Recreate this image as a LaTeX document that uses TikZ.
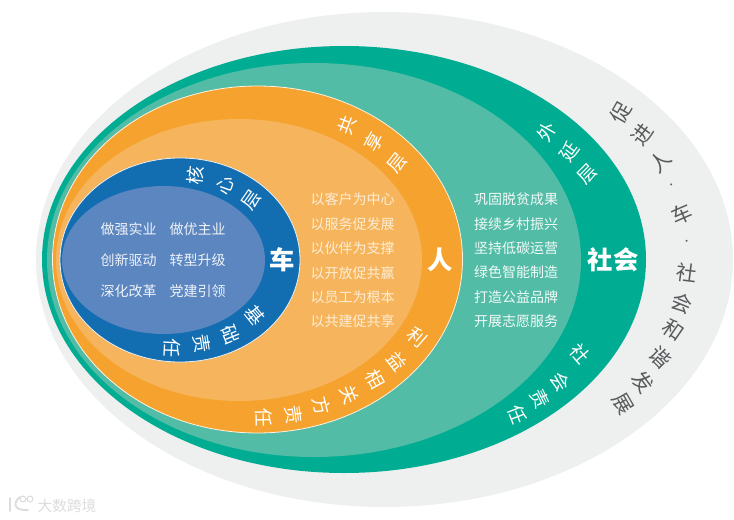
\documentclass[tikz,border=0pt]{standalone}
\usepackage{fontspec}
\setmainfont{Noto Sans CJK SC}
\definecolor{cGray}{HTML}{EEEFEF}
\definecolor{cTeal}{HTML}{00AD92}
\definecolor{cLTeal}{HTML}{52BCA6}
\definecolor{cOrange}{HTML}{F5A32E}
\definecolor{cLOrange}{HTML}{F6B55C}
\definecolor{cBlue}{HTML}{126DB1}
\definecolor{cLBlue}{HTML}{5B86C0}
\definecolor{cInk}{HTML}{58595B}
\definecolor{cWater}{HTML}{DCDCDC}
\newcommand{\ovalshape}[5]{\path[#5] (#1,#2) ellipse [x radius=#3*0.75pt, y radius=#4*0.75pt];}
% ring text: centre and radii of the ellipse it follows, list of x/y/char
\newcommand{\ringtext}[7]{%
  \foreach \px/\py/\ch [count=\n] in {#6} {
    \pgfmathsetmacro{\rot}{atan2(-(\py-#3)/#5*#4/#5,(\px-#2)/#4*#5/#4)}
    \node[#7,rotate=\rot] (#1\n) at (\px,\py) {\ch};
  }}
\tikzset{
  ringlabel/.style={inner sep=0pt,font=\fontsize{14pt}{16pt}\selectfont,text=white},
  outerlabel/.style={inner sep=0pt,font=\fontsize{15.5pt}{18pt}\selectfont,text=cInk},
  titlelabel/.style={inner sep=0pt,font=\fontsize{19pt}{22pt}\selectfont\bfseries,text=white},
  bodyline/.style={inner sep=0pt,font=\fontsize{10.5pt}{12pt}\selectfont,text=white!92!cLTeal},
  warmline/.style={bodyline,text=white!80!cOrange},
  blueline/.style={bodyline,text=white!90!cLBlue},
}
\begin{document}
\begin{tikzpicture}[x=0.75pt,y=-0.75pt]
\useasboundingbox (0,0) rectangle (734,520);
\ovalshape{384.5}{259.5}{348.5}{247.5}{fill=cGray}
\ovalshape{344}{259.5}{302}{213.5}{fill=cTeal}
\ovalshape{314}{260}{267}{197}{fill=cLTeal}
\ovalshape{257.5}{259.5}{205}{173.5}{fill=cOrange,draw=white!85!cOrange,line width=0.6pt}
\ovalshape{239}{260}{183}{141}{fill=cLOrange}
\ovalshape{180}{260}{120}{102}{fill=cBlue,draw=white!90!cBlue,line width=0.6pt}
\ovalshape{163.5}{260}{101.5}{74}{fill=cLBlue}

\ringtext{o}{384.5}{259.5}{300}{212}{621/113/促,642/135/进,660/162/人,672/186/{\scriptsize ·},682/214/车,687/243/{\scriptsize ·},687/273/社,682/303/会,673/330/和,660/357/谐,643/382/发,623/404/展}{outerlabel}
\ringtext{a}{344}{259.5}{270}{190}{547/132/外,569/152/延,587/174/层}{ringlabel}
\ringtext{b}{344}{259.5}{270}{190}{580/354/社,560/382/会,540/399/责,517/415/任}{ringlabel}
\ringtext{c}{257.5}{259.5}{190}{157}{347/125/共,374/142/享,397/163/层}{ringlabel}
\ringtext{d}{257.5}{259.5}{190}{157}{417/337/利,397/361/益,375/379/相,349/395/关,322/406/方,294/415/责,264/418/任}{ringlabel}
\ringtext{e}{180}{260}{105}{88}{195/175/核,225/185/心,251/200/层}{ringlabel}
\ringtext{f}{180}{260}{105}{88}{255/315/基,231/335/础,202/344/责,172/348/任}{ringlabel}

\node[titlelabel] (tSociety) at (613,260) {社会};
\node[titlelabel] (tPerson) at (440,260) {人};
\node[titlelabel] (tCar) at (282,260) {车};

\foreach \ty/\tx [count=\n] in {199/巩固脱贫成果,224/接续乡村振兴,248/坚持低碳运营,272/绿色智能制造,297/打造公益品牌,321/开展志愿服务}
  \node[bodyline] (s\n) at (516,\ty) {\tx};
\foreach \ty/\tx [count=\n] in {199/以客户为中心,224/以服务促发展,248/以伙伴为支撑,273/以开放促共赢,297/以员工为根本,321/以共建促共享}
  \node[warmline] (p\n) at (352.5,\ty) {\tx};
\foreach \ty/\tl/\tr [count=\n] in {229/做强实业/做优主业,260/创新驱动/转型升级,291/深化改革/党建引领}{
  \node[blueline] (l\n) at (128.5,\ty) {\tl};
  \node[blueline] (r\n) at (197.5,\ty) {\tr};
}

% watermark
\node[inner sep=0pt,font=\fontsize{11pt}{13pt}\selectfont,text=cWater] (wm) at (67,506) {大数跨境};
\draw[cWater,line width=1.4pt,line cap=round] (10,498) -- (10,511);
\draw[cWater,line width=1.4pt,line cap=round] (20,497) .. controls (13,502) and (13,511) .. (28,510);
\draw[cWater,line width=0.8pt] (23,499) circle [radius=2.2pt] (30,499) circle [radius=2.2pt];
\end{tikzpicture}
\end{document}
